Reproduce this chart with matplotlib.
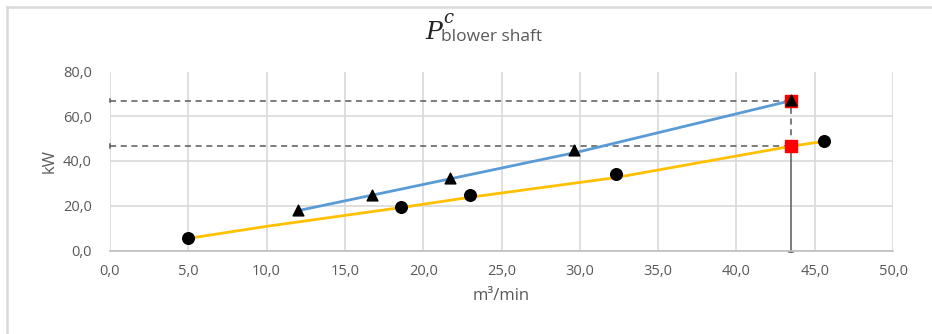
import numpy as np
import matplotlib.pyplot as plt
from matplotlib.lines import Line2D
from matplotlib.ticker import FuncFormatter

# measured points (m3/min, kW)
tri_x = [12.0, 16.7, 21.7, 29.6, 43.5]
tri_y = [18.3, 24.6, 32.2, 45.1, 67.2]
circ_x = [5.0, 18.6, 23.0, 32.3, 45.6]
circ_y = [5.7, 19.4, 24.6, 34.1, 48.9]

# trend lines
blue_x = [12.0, 20.0, 30.0, 43.5]
blue_y = [17.8, 29.5, 44.2, 67.0]
orange_x = [5.0, 10.0, 18.6, 23.0, 32.3, 43.5, 45.6]
orange_y = [5.4, 10.8, 19.2, 23.8, 32.6, 46.6, 48.8]

# operating point
op_x = 43.5
op_y = [67.0, 46.6]

plt.rcParams['font.family'] = ['Open Sans', 'DejaVu Sans']

fig = plt.figure(figsize=(9.32, 3.34), dpi=100)
ax = fig.add_axes([110 / 932, 1 - 250.5 / 334, 783 / 932, 179 / 334])

# chart frame: only left and top edges show
bx, by = 7 / 932, 1 - 7 / 334
fig.lines.append(Line2D([bx, bx], [0, by], transform=fig.transFigure, color='#d9d9d9', lw=1.8))
fig.lines.append(Line2D([bx, 1], [by, by], transform=fig.transFigure, color='#d9d9d9', lw=1.8))

ax.plot(orange_x, orange_y, color='#FFC000', lw=2.0, zorder=3)
ax.plot(blue_x, blue_y, color='#5B9BD5', lw=2.0, zorder=3)

# guide lines to the operating point
for yy in op_y:
    ax.plot([0, op_x], [yy, yy], color='#595959', lw=1.1, ls=(0, (4, 3)), zorder=2)
    ax.plot([0, 0], [yy - 0.8, yy + 0.8], color='#595959', lw=1.1, zorder=2, clip_on=False)
ax.plot([op_x, op_x], [op_y[1], op_y[0]], color='#595959', lw=1.1, ls=(0, (4, 3)), zorder=2)
ax.plot([op_x, op_x], [-0.8, op_y[1]], color='#595959', lw=1.1, zorder=2, clip_on=False)
ax.plot([op_x - 0.12, op_x + 0.12], [-0.8, -0.8], color='#595959', lw=1.1, zorder=2, clip_on=False)

ax.scatter([op_x, op_x], op_y, marker='s', s=70, color='#FF0000', zorder=4)
ax.scatter(tri_x, tri_y, marker='^', s=60, color='black', zorder=5)
ax.scatter(circ_x, circ_y, marker='o', s=70, color='black', zorder=5)

ax.set_xlim(0, 50)
ax.set_ylim(0, 80)
ax.set_xticks(np.arange(0, 51, 5))
ax.set_yticks(np.arange(0, 81, 20))
fmt = FuncFormatter(lambda v, p: '{:.1f}'.format(v).replace('.', ','))
ax.xaxis.set_major_formatter(fmt)
ax.yaxis.set_major_formatter(fmt)
ax.tick_params(length=0, labelsize=10.5, labelcolor='#595959')
ax.tick_params(axis='x', pad=10)
ax.tick_params(axis='y', pad=13)
ax.grid(True, color='#d9d9d9', lw=1.2)
ax.set_axisbelow(True)
for s in ['top', 'right', 'left']:
    ax.spines[s].set_visible(False)
ax.spines['bottom'].set_color('#bfbfbf')
ax.spines['bottom'].set_linewidth(1.2)

ax.set_xlabel('m³/min', fontsize=12, color='#595959', labelpad=6)
ax.set_ylabel('kW', fontsize=12, color='#595959', labelpad=4)

# title P^c_blower shaft
fig.text(425 / 932, 1 - 39 / 334, 'P', fontsize=18, family='DejaVu Serif', style='italic',
         color='#222222', va='baseline', ha='left')
fig.text(443 / 932, 1 - 23 / 334, 'c', fontsize=13, family='DejaVu Serif', style='italic',
         color='#222222', va='baseline', ha='left')
fig.text(441 / 932, 1 - 41 / 334, 'blower shaft', fontsize=12.5, color='#595959',
         va='baseline', ha='left')

fig.savefig('out.png', dpi=100)
